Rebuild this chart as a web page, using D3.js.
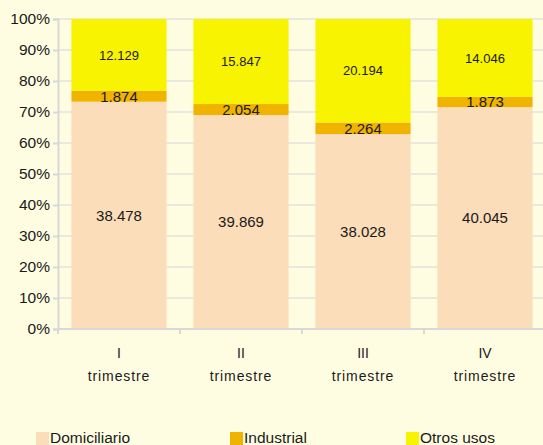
<!DOCTYPE html>
<html>
<head>
<meta charset="utf-8">
<script src="https://cdn.jsdelivr.net/npm/d3@7"></script>
<style>
  body { margin: 0; background: #fffde1; }
  svg { display: block; font-family: "Liberation Sans", Arial, sans-serif; }
</style>
</head>
<body>
<div id="chart"></div>
<script>
const quarters = ["I", "II", "III", "IV"];
const domiciliario = [38478, 39869, 38028, 40045];
const industrial = [1874, 2054, 2264, 1873];
const otrosUsos = [12129, 15847, 20194, 14046];
const seriesNames = ["Domiciliario", "Industrial", "Otros usos"];
const colors = ["#fbddb9", "#f0b400", "#f8f300"];
const yTicks = [0, 0.1, 0.2, 0.3, 0.4, 0.5, 0.6, 0.7, 0.8, 0.9, 1];

const width = 543, height = 445;
const margin = {top: 19, right: -3, bottom: 116, left: 58};

const es = d3.formatLocale({decimal: ",", thousands: ".", grouping: [3], currency: ["", "€"]});
const fmt = es.format(",d");

const rows = quarters.map((q, i) => ({
  q: q,
  "Domiciliario": domiciliario[i],
  "Industrial": industrial[i],
  "Otros usos": otrosUsos[i]
}));

const stacked = d3.stack().keys(seriesNames).offset(d3.stackOffsetExpand)(rows);

const svg = d3.select("#chart").append("svg")
  .attr("width", width)
  .attr("height", height);

const x = d3.scaleBand()
  .domain(quarters)
  .range([margin.left, width - margin.right])
  .paddingInner(0.22)
  .paddingOuter(0.11);

const y = d3.scaleLinear()
  .domain([0, 1])
  .range([height - margin.bottom, margin.top]);

// gridlines
svg.append("g")
  .selectAll("line")
  .data(yTicks.slice(1))
  .join("line")
  .attr("x1", margin.left)
  .attr("x2", width)
  .attr("y1", d => y(d))
  .attr("y2", d => y(d))
  .attr("stroke", "#e2e2dc")
  .attr("stroke-width", 1.5);

// bars
const layer = svg.append("g")
  .selectAll("g")
  .data(stacked)
  .join("g")
  .attr("fill", (d, i) => colors[i]);

layer.selectAll("rect")
  .data(d => d)
  .join("rect")
  .attr("x", d => x(d.data.q))
  .attr("width", x.bandwidth())
  .attr("y", d => y(d[1]))
  .attr("height", d => y(d[0]) - y(d[1]));

// value labels
const labelSize = {"Domiciliario": 15, "Industrial": 15, "Otros usos": 13};
stacked.forEach(s => {
  svg.append("g")
    .selectAll("text")
    .data(s)
    .join("text")
    .attr("x", d => x(d.data.q) + x.bandwidth() / 2)
    .attr("y", d => (y(d[0]) + y(d[1])) / 2)
    .attr("dy", "0.36em")
    .attr("text-anchor", "middle")
    .attr("font-size", labelSize[s.key])
    .attr("fill", "#1a1a1a")
    .text(d => fmt(d.data[s.key]));
});

// y axis
const yAxis = svg.append("g")
  .attr("transform", `translate(${margin.left},0)`)
  .call(d3.axisLeft(y).tickValues(yTicks).tickFormat(d3.format(".0%")).tickSize(5).tickPadding(3));
yAxis.select(".domain").attr("stroke", "#d8d8d8").attr("stroke-width", 2);
yAxis.selectAll(".tick line").attr("stroke", "#d8d8d8").attr("stroke-width", 2);
yAxis.selectAll("text").attr("font-size", 15.5).attr("fill", "#1a1a1a").attr("font-family", "Liberation Sans, Arial, sans-serif");

// x axis
const xAxis = svg.append("g")
  .attr("transform", `translate(0,${height - margin.bottom})`);
xAxis.append("line")
  .attr("x1", margin.left)
  .attr("x2", width)
  .attr("stroke", "#d8d8d8")
  .attr("stroke-width", 2);
const step = x.step();
xAxis.selectAll("line.tick")
  .data(d3.range(quarters.length + 1))
  .join("line")
  .attr("class", "tick")
  .attr("x1", i => margin.left + i * step)
  .attr("x2", i => margin.left + i * step)
  .attr("y1", 0)
  .attr("y2", 5)
  .attr("stroke", "#d8d8d8")
  .attr("stroke-width", 2);

const xl = xAxis.selectAll("text.cat")
  .data(quarters)
  .join("text")
  .attr("class", "cat")
  .attr("x", d => x(d) + x.bandwidth() / 2)
  .attr("text-anchor", "middle")
  .attr("font-size", 14)
  .attr("fill", "#1a1a1a");
xl.append("tspan").attr("x", d => x(d) + x.bandwidth() / 2).attr("y", 29).text(d => d);
xl.append("tspan").attr("x", d => x(d) + x.bandwidth() / 2).attr("y", 52).attr("letter-spacing", 0.9).text("trimestre");

// legend
const legendX = [36, 230, 406];
const legend = svg.append("g")
  .selectAll("g")
  .data(seriesNames)
  .join("g")
  .attr("transform", (d, i) => `translate(${legendX[i]},432)`);
legend.append("rect")
  .attr("width", 13)
  .attr("height", 13)
  .attr("fill", (d, i) => colors[i]);
legend.append("text")
  .attr("x", 14)
  .attr("y", 11)
  .attr("font-size", 15.5)
  .attr("fill", "#1a1a1a")
  .text(d => d);
</script>
</body>
</html>
